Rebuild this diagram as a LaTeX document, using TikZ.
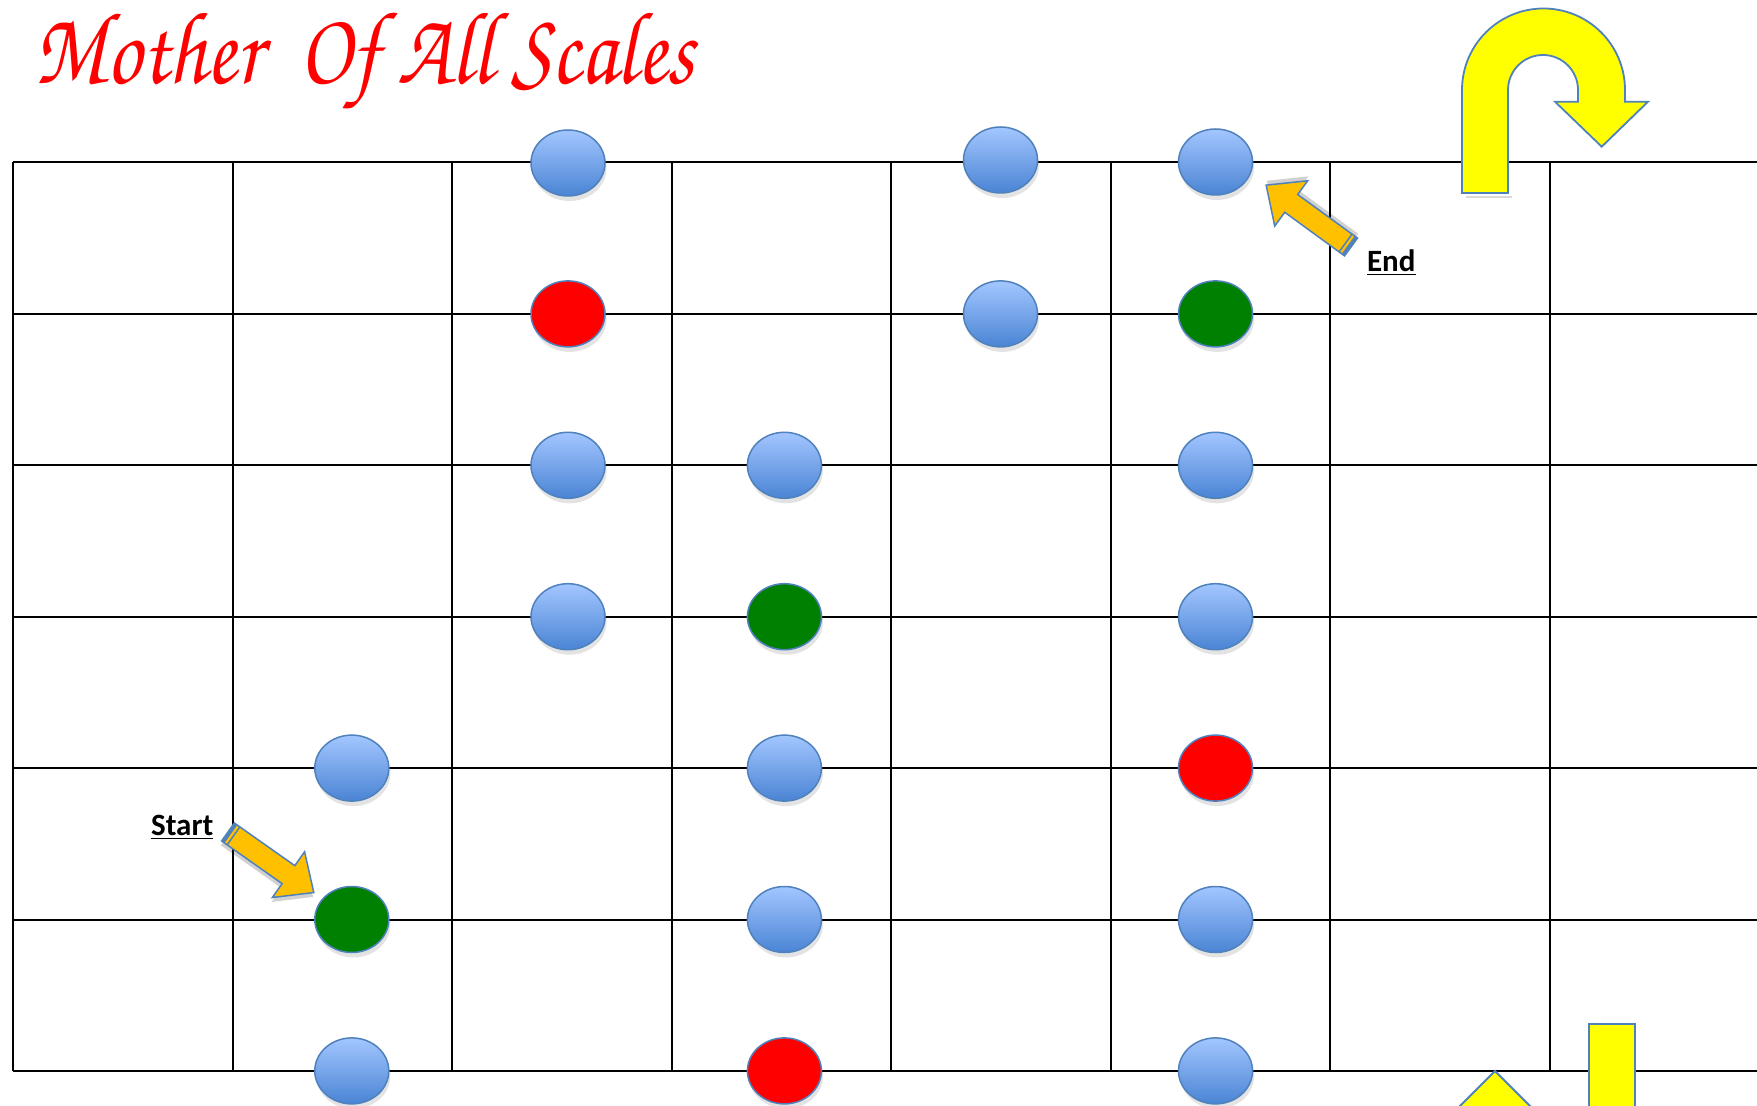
\documentclass[tikz,border=0pt]{standalone}
\usepackage[T1]{fontenc}
\usepackage{fontspec}
\setmainfont{Carlito}
\usepackage{graphicx}
\usetikzlibrary{shapes.geometric,shadows}
\definecolor{cblueT}{HTML}{A3C6FF}
\definecolor{cblueB}{HTML}{4A84D4}
\definecolor{cborder}{HTML}{4F81BD}
\definecolor{corange}{HTML}{FFC000}
\definecolor{cgreen}{HTML}{008000}
\definecolor{cyellow}{HTML}{FFFF00}
\newcommand\chancery{\fontencoding{T1}\fontfamily{pzc}\fontseries{mb}\fontshape{it}\selectfont}
\newcommand\titletext{Mother\ \ Of All Scales}
\newcommand\myblockarrow[3]{%
  \begin{scope}[shift={(#1,#2)},rotate=#3]
    \fill[black,opacity=0.18] (2,-7) -- (76,-7) -- (76,-24) -- (107,4) -- (76,32) -- (76,15) -- (2,15) -- cycle;
    \filldraw[fill=corange,draw=cborder,line width=0.75pt] (0,-11) -- (74,-11) -- (74,-28) -- (105,0) -- (74,28) -- (74,11) -- (0,11) -- cycle;
    \fill[cborder] (0,-11) rectangle (3.5,11);
    \fill[cborder] (6,-11) rectangle (7.5,11);
  \end{scope}}
\tikzset{
  gridline/.style={line width=1pt,black},
  dot/.style={ellipse,minimum width=37pt,minimum height=33pt,inner sep=0pt,draw=cborder,line width=0.75pt,
    drop shadow={shadow xshift=0.8pt,shadow yshift=-2.5pt,opacity=0.22}},
  bluedot/.style={dot,top color=cblueT,bottom color=cblueB},
  reddot/.style={dot,fill=red},
  greendot/.style={dot,fill=cgreen},
  yshape/.style={fill=cyellow,draw=cborder,line width=0.9pt,line join=miter},
  label/.style={anchor=base west,inner sep=0pt,font=\fontsize{15.5pt}{18pt}\selectfont\bfseries}
}
\begin{document}
\begin{tikzpicture}[x=0.5pt,y=-0.5pt]
\useasboundingbox (0,0) rectangle (1757,1106);
\clip (0,0) rectangle (1757,1106);
\fill[white] (0,0) rectangle (1757,1106);
% grid
\foreach \yy in {162.5,313.9,465.3,616.7,768.1,919.5,1070.9}
  \draw[gridline] (13.4,\yy) -- (1757,\yy);
\foreach \xx in {13.4,232.5,452,671.5,891,1110.5,1330,1549.5}
  \draw[gridline] (\xx,162.5) -- (\xx,1070.9);
% title
\node[anchor=base west,inner sep=0pt,text=red] (title) at (34,84)
  {\scalebox{1}[1.2]{\resizebox{330pt}{!}{\chancery\titletext}}};
% dots
\node[bluedot]  (b1) at (568,163) {};
\node[bluedot]  (d1) at (1000.5,160) {};
\node[bluedot]  (e1) at (1215.5,162) {};
\node[reddot]   (b2) at (568,313.9) {};
\node[bluedot]  (d2) at (1000.5,313.9) {};
\node[greendot] (e2) at (1215.5,313.9) {};
\node[bluedot]  (b3) at (568,465.3) {};
\node[bluedot]  (c3) at (784.4,465.3) {};
\node[bluedot]  (e3) at (1215.5,465.3) {};
\node[bluedot]  (b4) at (568,616.7) {};
\node[greendot] (c4) at (784.4,616.7) {};
\node[bluedot]  (e4) at (1215.5,616.7) {};
\node[bluedot]  (a5) at (351.8,768.1) {};
\node[bluedot]  (c5) at (784.4,768.1) {};
\node[reddot]   (e5) at (1215.5,768.1) {};
\node[greendot] (a6) at (351.8,919.5) {};
\node[bluedot]  (c6) at (784.4,919.5) {};
\node[bluedot]  (e6) at (1215.5,919.5) {};
\node[bluedot]  (a7) at (351.8,1070.9) {};
\node[reddot]   (c7) at (784.4,1070.9) {};
\node[bluedot]  (e7) at (1215.5,1070.9) {};
% start / end arrows
\myblockarrow{228}{832}{-35.2}
\myblockarrow{1351}{247}{143.9}
\node[label] (start) at (150.7,835) {\underline{Start}};
\node[label] (end) at (1366.7,271.7) {\underline{End}};
% U-turn arrow
\fill[black,opacity=0.15] (1466,198) -- (1466,196) -- (1512,196) -- (1512,198) -- cycle;
\path[yshape] (1462,193) -- (1462,90) arc[start angle=180,end angle=0,radius=40.75pt]
  -- (1625,101.7) -- (1648,101.7) -- (1601.7,146.7) -- (1555,101.7) -- (1578,101.7) -- (1578,90)
  arc[start angle=0,end angle=180,radius=17.5pt] -- (1508,193) -- cycle;
% bottom right partial arrow
\path[yshape] (1495,1071) -- (1560,1136) -- (1430,1136) -- cycle;
\path[yshape] (1589,1024) rectangle (1635,1140);
\end{tikzpicture}
\end{document}
